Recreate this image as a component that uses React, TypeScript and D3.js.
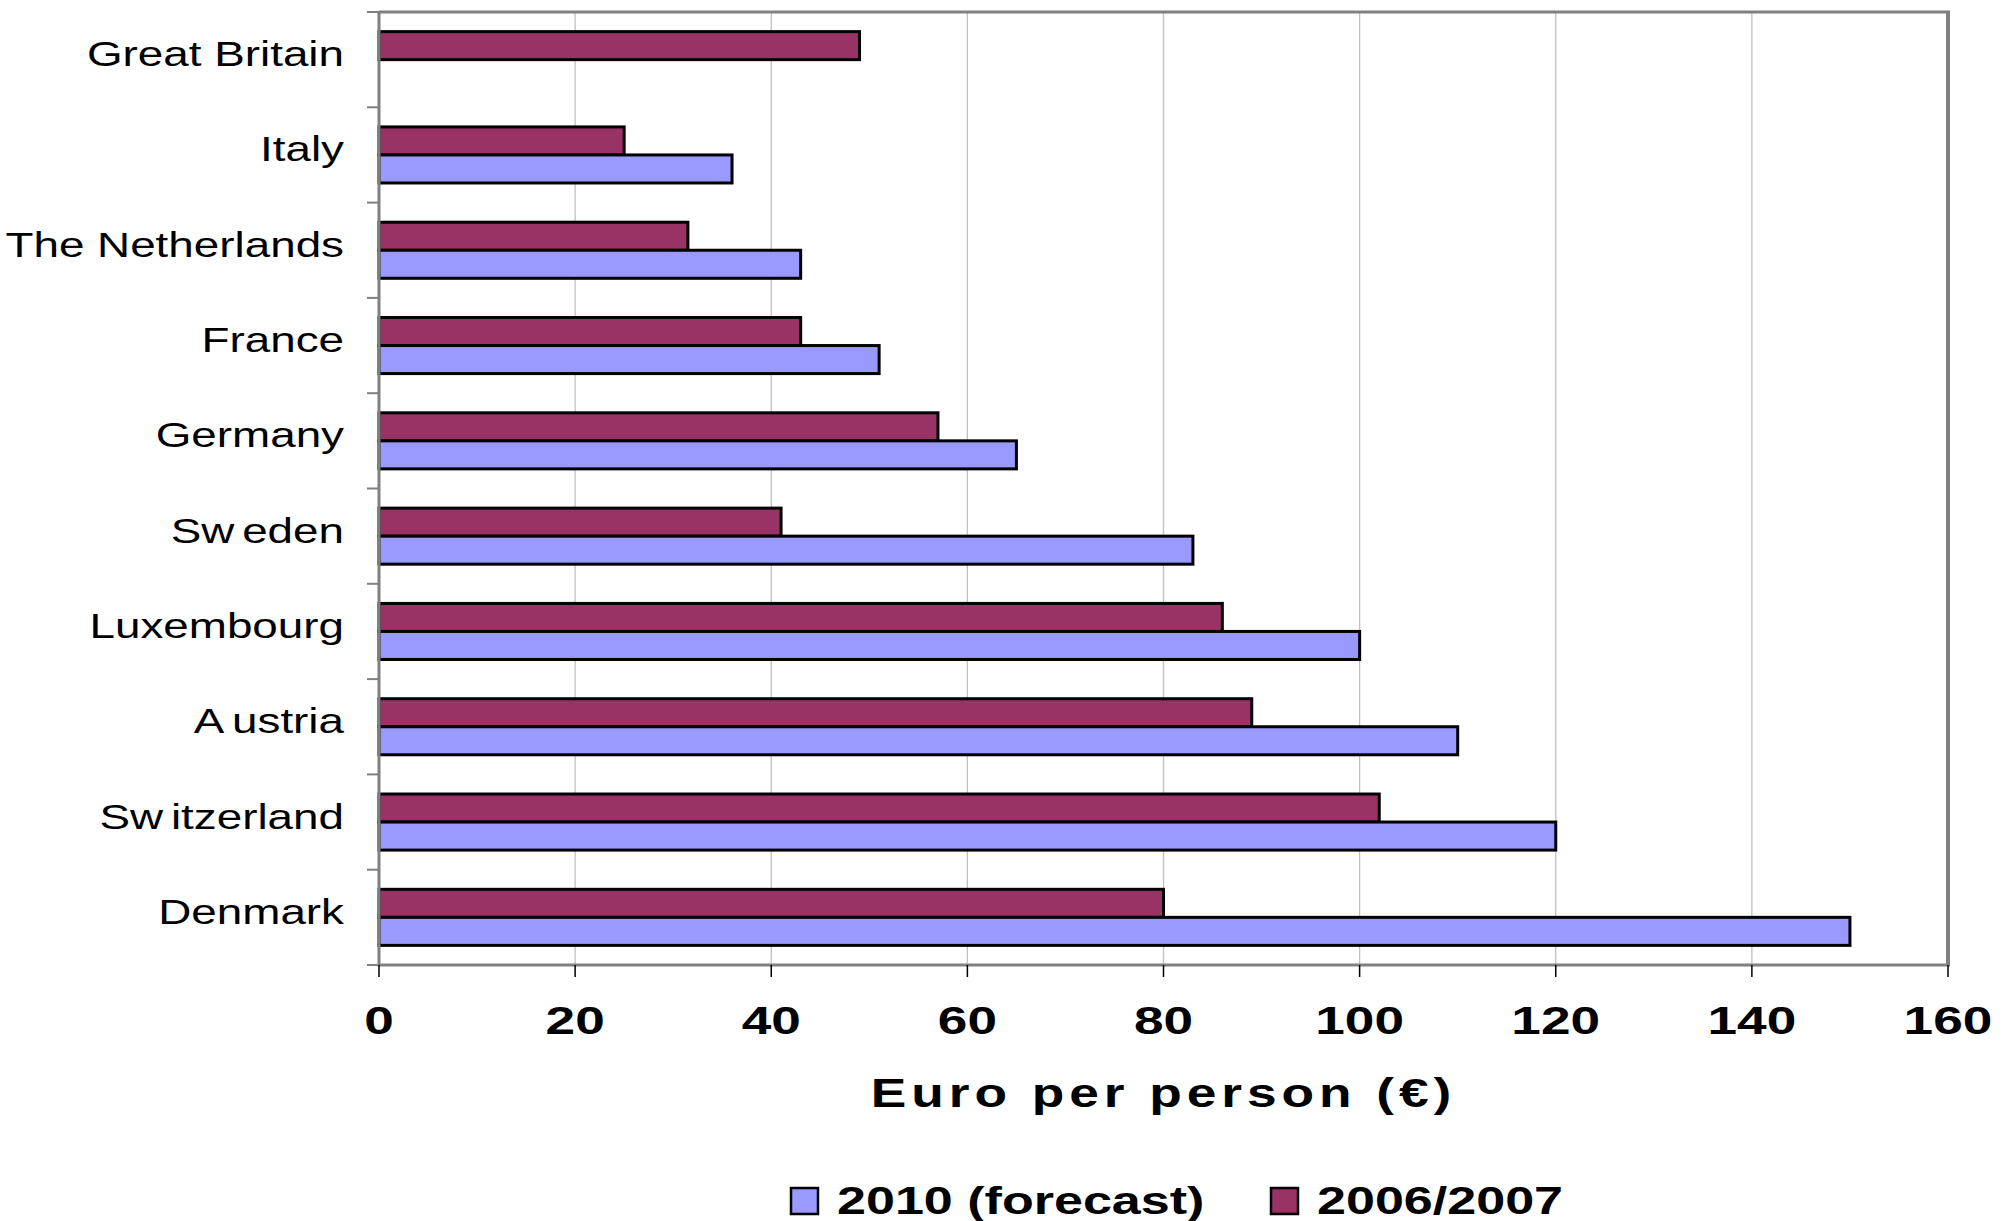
import { useEffect } from "react";
import * as d3 from "d3";

// values (euro per person)
const countries = [
  "Great Britain",
  "Italy",
  "The Netherlands",
  "France",
  "Germany",
  "Sweden",
  "Luxembourg",
  "Austria",
  "Switzerland",
  "Denmark",
];
const values2006 = [49, 25, 31.5, 43, 57, 41, 86, 89, 102, 80];
const values2010: (number | null)[] = [null, 36, 43, 51, 65, 83, 100, 110, 120, 150];
const seriesNames = ["2006/2007", "2010 (forecast)"];
const legendNames = ["2010 (forecast)", "2006/2007"];
const xTicks = [0, 20, 40, 60, 80, 100, 120, 140, 160];
const xTitle = "Euro per person (€)";

const W = 2003;
const H = 1221;
const FONT = "'Liberation Sans', Arial, sans-serif";
const colors: Record<string, string> = {
  "2006/2007": "#993366",
  "2010 (forecast)": "#9999ff",
};
// odd gaps in the original label rendering (index of the gap)
const labelGaps: Record<string, number> = { Sweden: 2, Switzerland: 2, Austria: 1 };

type TxtProps = {
  x: number;
  y: number;
  sx: number;
  size: number;
  anchor?: "start" | "middle" | "end";
  bold?: boolean;
  spacing?: number;
  children: React.ReactNode;
};

const Txt = ({ x, y, sx, size, anchor = "start", bold = false, spacing = 0, children }: TxtProps) => (
  <g transform={`translate(${x},${y}) scale(${sx},1)`}>
    <text
      textAnchor={anchor}
      fontFamily={FONT}
      fontSize={size}
      fontWeight={bold ? "bold" : "normal"}
      letterSpacing={spacing}
      fill="#000"
    >
      {children}
    </text>
  </g>
);

const App = () => {
  useEffect(() => {
    document.body.style.margin = "0";
  }, []);

  const x = d3.scaleLinear().domain([0, 160]).range([379, 1948]);
  const y = d3.scaleBand<string>().domain(countries).range([12, 965]);
  const inner = d3
    .scaleBand<string>()
    .domain(seriesNames)
    .range([0, y.bandwidth()])
    .paddingOuter(0.7);

  const [top, bottom] = y.range();
  const rows = countries.map((c, i) => ({
    c,
    vals: [
      { s: seriesNames[0], v: values2006[i] },
      { s: seriesNames[1], v: values2010[i] },
    ],
  }));

  const legendX = [791, 1271];

  return (
    <svg width={W} height={H} style={{ display: "block", background: "#fff" }}>
      {/* grid */}
      {xTicks.slice(1, -1).map((t) => (
        <line key={t} x1={x(t)} x2={x(t)} y1={top} y2={bottom} stroke="#c0c0c0" strokeWidth={1.3} />
      ))}
      {/* plot frame top / right */}
      <line x1={x(0)} x2={x(160) + 2} y1={top} y2={top} stroke="#808080" strokeWidth={3} />
      <line x1={x(160)} x2={x(160)} y1={top} y2={bottom} stroke="#808080" strokeWidth={4} />

      {/* bars */}
      {rows.map((r) =>
        r.vals
          .filter((d) => d.v != null)
          .map((d) => (
            <rect
              key={r.c + d.s}
              x={x(0)}
              y={(y(r.c) ?? 0) + (inner(d.s) ?? 0)}
              width={x(d.v as number) - x(0)}
              height={inner.bandwidth()}
              fill={colors[d.s]}
              stroke="#000"
              strokeWidth={3}
            />
          ))
      )}

      {/* y axis */}
      <line x1={x(0)} x2={x(0)} y1={top} y2={bottom} stroke="#808080" strokeWidth={3} />
      {countries.map((c) => (
        <line key={c} x1={x(0) - 12} x2={x(0)} y1={y(c)} y2={y(c)} stroke="#808080" strokeWidth={2} />
      ))}
      <line x1={x(0) - 12} x2={x(0)} y1={bottom} y2={bottom} stroke="#808080" strokeWidth={2} />
      {countries.map((c) => {
        const cy = (y(c) ?? 0) + y.bandwidth() / 2 + 6.5;
        const gap = labelGaps[c];
        return (
          <Txt key={c} x={344} y={cy} sx={1.29} size={35.5} anchor="end">
            {gap ? (
              <>
                <tspan>{c.slice(0, gap)}</tspan>
                <tspan dx={6}>{c.slice(gap)}</tspan>
              </>
            ) : (
              c
            )}
          </Txt>
        );
      })}

      {/* x axis */}
      <line x1={x(0) - 1} x2={x(160) + 2} y1={bottom} y2={bottom} stroke="#808080" strokeWidth={3} />
      {xTicks.map((t) => (
        <line key={t} x1={x(t)} x2={x(t)} y1={bottom} y2={bottom + 12} stroke="#000" strokeWidth={1.5} />
      ))}
      {xTicks.map((t) => (
        <Txt key={t} x={x(t)} y={1034} sx={1.4} size={38} anchor="middle" bold>
          {t}
        </Txt>
      ))}
      <Txt x={(x(0) + x(160)) / 2} y={1107} sx={1.3} size={41} anchor="middle" bold spacing={3.8}>
        {xTitle}
      </Txt>

      {/* legend */}
      {legendNames.map((n, i) => (
        <g key={n}>
          <rect x={legendX[i]} y={1188} width={27} height={26} fill={colors[n]} stroke="#000" strokeWidth={2.5} />
          <Txt x={legendX[i] + 46} y={1214} sx={1.37} size={38} bold>
            {n}
          </Txt>
        </g>
      ))}
    </svg>
  );
};

export default App;
